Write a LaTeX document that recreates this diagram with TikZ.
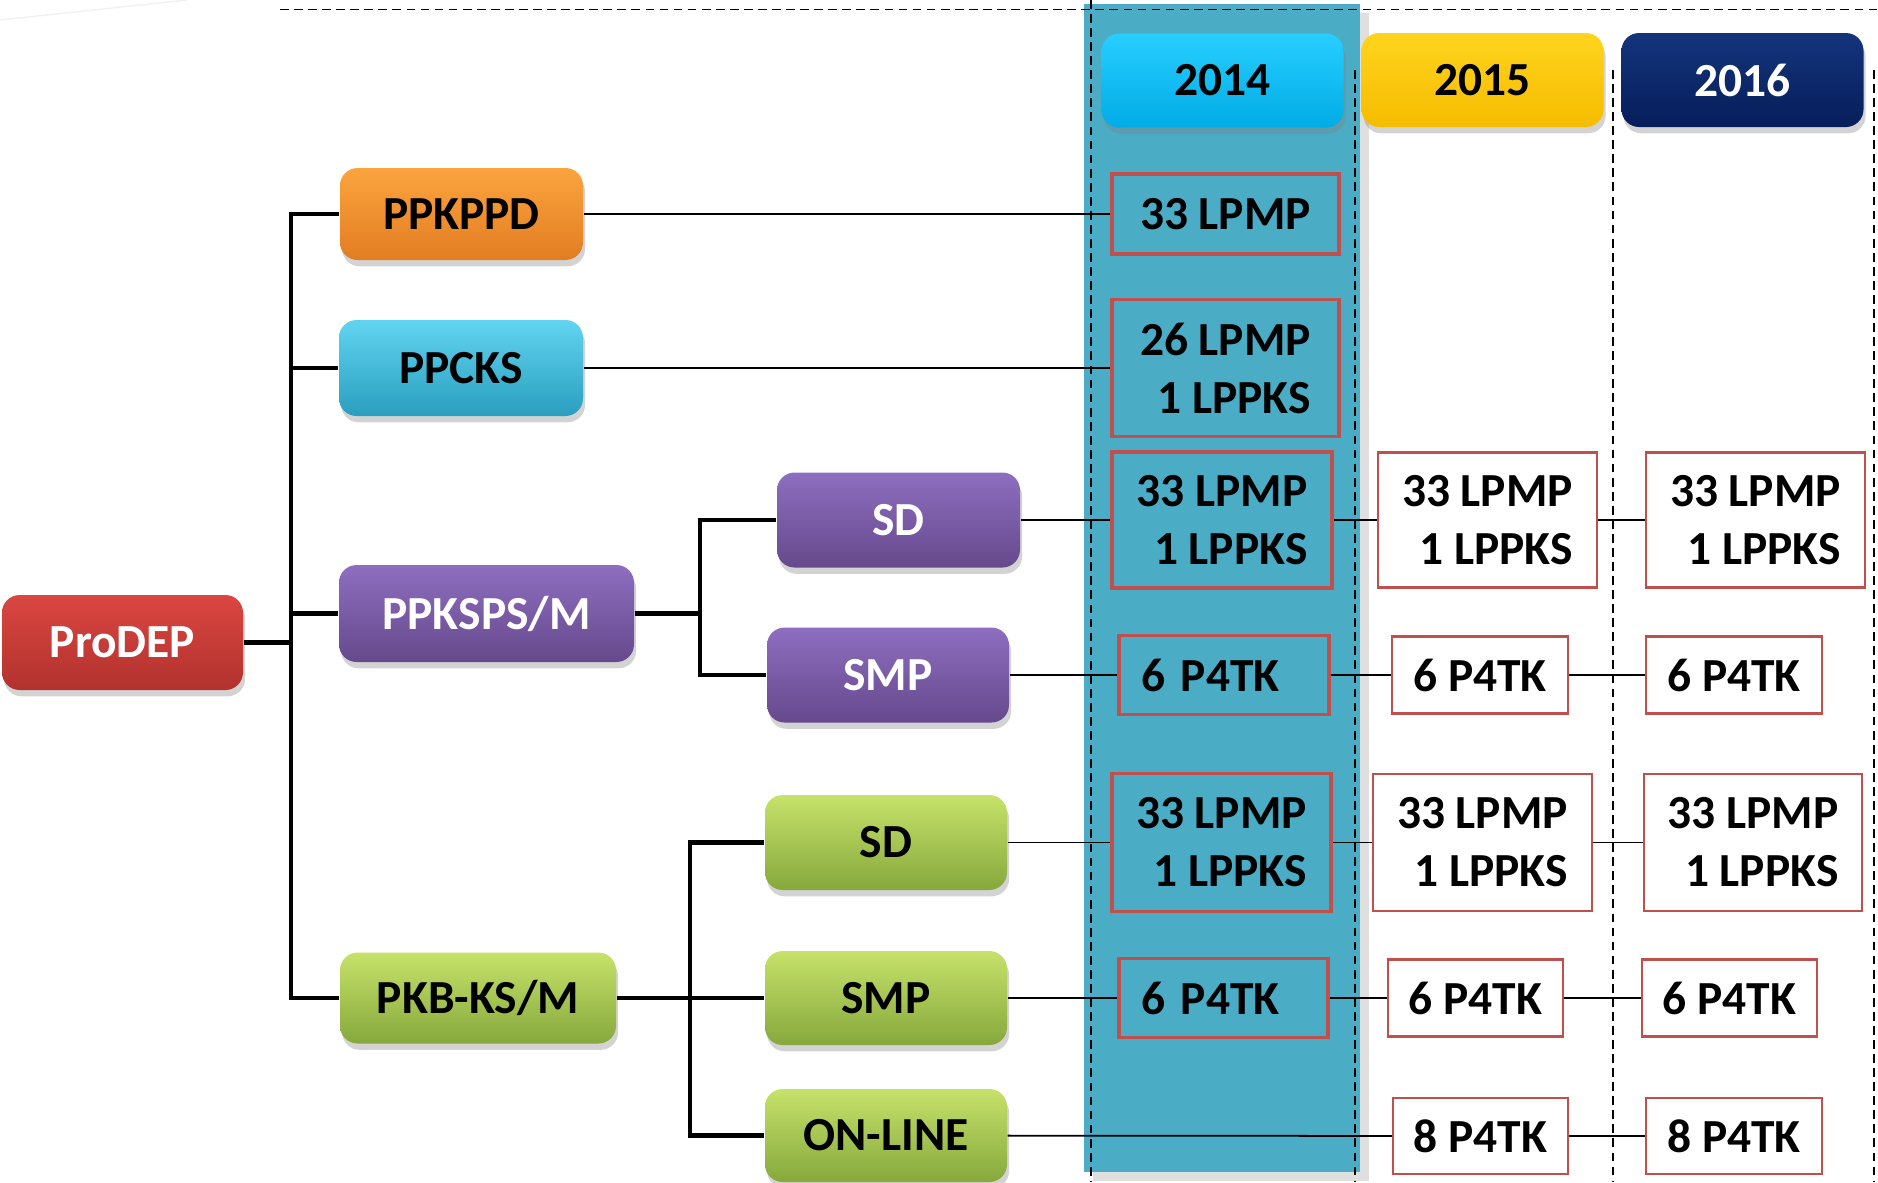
\documentclass[tikz,border=0pt]{standalone}
\usepackage{fontspec}
\setmainfont{Carlito}
\usetikzlibrary{shadows}

\definecolor{colblue}{RGB}{75,172,198}
\definecolor{cellred}{RGB}{192,80,77}
\definecolor{redtop}{RGB}{218,70,65}
\definecolor{redbot}{RGB}{178,50,46}
\definecolor{orgtop}{RGB}{251,164,62}
\definecolor{orgbot}{RGB}{226,125,34}
\definecolor{cyntop}{RGB}{96,212,240}
\definecolor{cynbot}{RGB}{43,158,192}
\definecolor{purtop}{RGB}{141,110,192}
\definecolor{purbot}{RGB}{102,73,140}
\definecolor{grntop}{RGB}{198,226,106}
\definecolor{grnbot}{RGB}{134,168,60}
\definecolor{yatop}{RGB}{40,206,255}
\definecolor{yabot}{RGB}{0,172,230}
\definecolor{ybtop}{RGB}{255,212,30}
\definecolor{ybbot}{RGB}{245,188,0}
\definecolor{yctop}{RGB}{20,52,124}
\definecolor{ycbot}{RGB}{6,30,90}

\begin{document}
\begin{tikzpicture}[
	txt/.style={font=\bfseries\fontsize{13.5}{16.5}\selectfont},
	box/.style={txt,rounded corners=5pt,inner sep=0pt,minimum width=2.42cm,minimum height=0.94cm,
		drop shadow={shadow xshift=0.6pt,shadow yshift=-1.8pt,opacity=0.35}},
	redbox/.style={box,top color=redtop,bottom color=redbot,text=white},
	orgbox/.style={box,top color=orgtop,bottom color=orgbot},
	cynbox/.style={box,top color=cyntop,bottom color=cynbot},
	purbox/.style={box,top color=purtop,bottom color=purbot,text=white},
	grnbox/.style={box,top color=grntop,bottom color=grnbot},
	cell/.style={txt,draw=cellred,line width=0.6pt,fill=white,inner sep=0pt,align=right},
	cellnow/.style={cell,line width=1.1pt,fill=none},
	tree/.style={line width=1.4pt},
	link/.style={line width=0.5pt},
	sep/.style={dash pattern=on 2.5pt off 1.5pt,line width=0.55pt}
	]

	\useasboundingbox (0,0) rectangle (18.78,-11.82);

	\draw[gray!12,line width=0.4pt] (0,-0.2) -- (1.87,0);

	% the 2014 column
	\path[fill=colblue,drop shadow={shadow xshift=2.5pt,shadow yshift=-2.5pt,opacity=0.25}] (10.84,-0.04) rectangle (13.60,-11.72);

	\draw[sep] (2.80,-0.095) -- (18.78,-0.095);
	\draw[sep] (10.91,0) -- (10.91,-11.82);
	\draw[sep] (13.55,-0.70) -- (13.55,-11.82);
	\draw[sep] (16.13,-0.70) -- (16.13,-11.82);
	\draw[sep] (18.74,-0.70) -- (18.74,-11.82);

	\node[box,top color=yatop,bottom color=yabot] (yr14) at (12.225,-0.805) {2014};
	\node[box,top color=ybtop,bottom color=ybbot] (yr15) at (14.825,-0.80) {2015};
	\node[box,top color=yctop,bottom color=ycbot,text=white] (yr16) at (17.425,-0.80) {2016};

	\node[redbox,minimum width=2.41cm,minimum height=0.95cm] (prodep) at (1.225,-6.425) {ProDEP};
	\node[orgbox,minimum width=2.43cm,minimum height=0.92cm] (ppkppd) at (4.615,-2.14) {PPKPPD};
	\node[cynbox,minimum width=2.44cm,minimum height=0.96cm] (ppcks) at (4.61,-3.68) {PPCKS};
	\node[purbox,minimum width=2.95cm,minimum height=0.97cm] (ppksps) at (4.865,-6.135) {PPKSPS/M};
	\node[purbox,minimum width=2.43cm,minimum height=0.95cm] (sdA) at (8.985,-5.20) {SD};
	\node[purbox,minimum height=0.95cm] (smpA) at (8.88,-6.75) {SMP};
	\node[grnbox,minimum width=2.76cm,minimum height=0.91cm] (pkb) at (4.78,-9.98) {PKB-KS/M};
	\node[grnbox,minimum height=0.95cm] (sdB) at (8.86,-8.425) {SD};
	\node[grnbox] (smpB) at (8.86,-9.98) {SMP};
	\node[grnbox,minimum height=0.93cm] (online) at (8.86,-11.355) {ON-LINE};

	\node[cellnow,minimum width=2.27cm,minimum height=0.80cm] (kppd14) at (12.255,-2.14) {33 LPMP};
	\node[cellnow,minimum width=2.27cm,minimum height=1.37cm] (cks14) at (12.255,-3.68) {26 LPMP\\1 LPPKS};

	\node[cellnow,minimum width=2.20cm,minimum height=1.36cm] (sdA14) at (12.22,-5.20) {33 LPMP\\1 LPPKS};
	\node[cell,minimum width=2.19cm,minimum height=1.35cm] (sdA15) at (14.875,-5.20) {33 LPMP\\1 LPPKS};
	\node[cell,minimum width=2.19cm,minimum height=1.35cm] (sdA16) at (17.555,-5.20) {33 LPMP\\1 LPPKS};

	\node[cellnow,text width=1.66cm,align=left,minimum width=2.10cm,minimum height=0.79cm] (smpA14) at (12.24,-6.75) {6 P4TK};
	\node[cell,minimum width=1.76cm,minimum height=0.77cm] (smpA15) at (14.80,-6.75) {6 P4TK};
	\node[cell,minimum width=1.76cm,minimum height=0.77cm] (smpA16) at (17.34,-6.75) {6 P4TK};

	\node[cellnow,minimum width=2.19cm,minimum height=1.38cm] (sdB14) at (12.215,-8.425) {33 LPMP\\1 LPPKS};
	\node[cell,minimum width=2.19cm,minimum height=1.37cm] (sdB15) at (14.825,-8.425) {33 LPMP\\1 LPPKS};
	\node[cell,minimum width=2.18cm,minimum height=1.37cm] (sdB16) at (17.53,-8.425) {33 LPMP\\1 LPPKS};

	\node[cellnow,text width=1.65cm,align=left,minimum width=2.09cm,minimum height=0.79cm] (smpB14) at (12.235,-9.98) {6 P4TK};
	\node[cell,minimum width=1.75cm,minimum height=0.77cm] (smpB15) at (14.755,-9.98) {6 P4TK};
	\node[cell,minimum width=1.75cm,minimum height=0.77cm] (smpB16) at (17.295,-9.98) {6 P4TK};

	\node[cell,minimum width=1.75cm,minimum height=0.76cm] (onl15) at (14.805,-11.36) {8 P4TK};
	\node[cell,minimum width=1.76cm,minimum height=0.76cm] (onl16) at (17.34,-11.36) {8 P4TK};

	\coordinate (trunk) at (2.91,-6.425);
	\coordinate (forkA) at (7.00,-6.135);
	\coordinate (forkB) at (6.90,-9.98);

	\draw[tree] (prodep) -- (trunk);
	\draw[tree] (trunk) |- (ppkppd);
	\draw[tree] (trunk) |- (ppcks);
	\draw[tree] (trunk) |- (ppksps);
	\draw[tree] (trunk) |- (pkb);

	\draw[tree] (ppksps) -- (forkA);
	\draw[tree] (forkA) |- (sdA);
	\draw[tree] (forkA) |- (smpA);

	\draw[tree] (pkb) -- (forkB);
	\draw[tree] (forkB) |- (sdB);
	\draw[tree] (forkB) |- (smpB);
	\draw[tree] (forkB) |- (online);

	\draw[link] (ppkppd) -- (kppd14);
	\draw[link] (ppcks) -- (cks14);
	\draw[link] (sdA) -- (sdA14);
	\draw[link] (sdA14) -- (sdA15);
	\draw[link] (sdA15) -- (sdA16);
	\draw[link] (smpA) -- (smpA14);
	\draw[link] (smpA14) -- (smpA15);
	\draw[link] (smpA15) -- (smpA16);
	\draw[link] (sdB) -- (sdB14);
	\draw[link] (sdB14) -- (sdB15);
	\draw[link] (sdB15) -- (sdB16);
	\draw[link] (smpB) -- (smpB14);
	\draw[link] (smpB14) -- (smpB15);
	\draw[link] (smpB15) -- (smpB16);
	\draw[link] (online) -- (onl15);
	\draw[link] (onl15) -- (onl16);

\end{tikzpicture}
\end{document}
